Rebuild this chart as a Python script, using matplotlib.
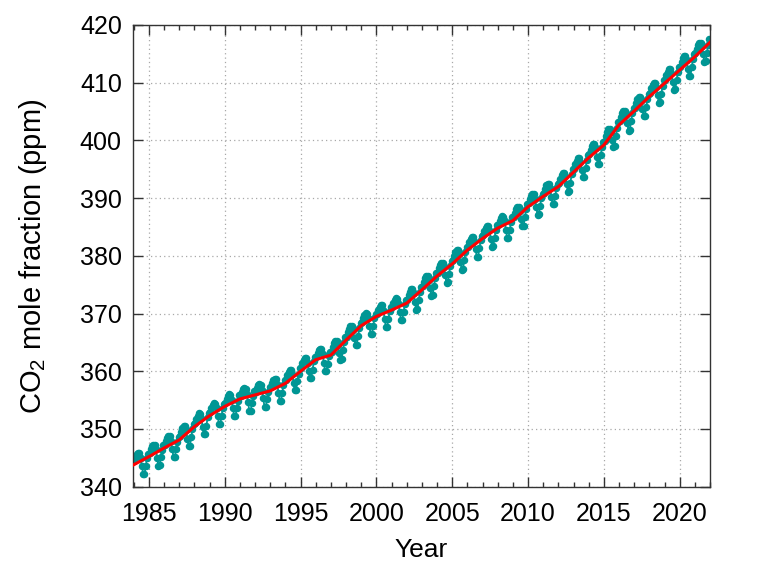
import numpy as np
import matplotlib
matplotlib.use("Agg")
import matplotlib.pyplot as plt
from matplotlib.ticker import MultipleLocator

# monthly global mean CO2 (ppm), Jan..Dec
years = list(range(1984, 2022))
monthly = [
    [344.4, 345.1, 345.6, 345.9, 345.8, 345.0, 343.6, 342.2, 342.2, 343.6, 344.9, 345.7],  # 1984
    [345.8, 346.5, 347.0, 347.3, 347.3, 346.5, 345.0, 343.6, 343.7, 345.1, 346.4, 347.2],
    [347.3, 348.0, 348.5, 348.8, 348.7, 347.9, 346.5, 345.1, 345.1, 346.5, 347.8, 348.6],
    [348.7, 349.5, 350.1, 350.5, 350.5, 349.8, 348.3, 347.0, 347.1, 348.6, 350.0, 350.9],
    [351.0, 351.7, 352.3, 352.7, 352.6, 351.9, 350.4, 349.1, 349.2, 350.6, 352.0, 352.8],
    [352.9, 353.6, 354.1, 354.5, 354.4, 353.6, 352.2, 350.8, 350.8, 352.3, 353.6, 354.4],  # 1989
    [354.5, 355.2, 355.7, 356.0, 355.9, 355.1, 353.6, 352.2, 352.2, 353.6, 354.9, 355.8],
    [355.7, 356.4, 356.9, 357.1, 357.0, 356.1, 354.6, 353.1, 353.1, 354.5, 355.7, 356.5],
    [356.4, 357.1, 357.6, 357.8, 357.7, 356.8, 355.3, 353.8, 353.8, 355.2, 356.4, 357.2],
    [357.2, 357.9, 358.4, 358.7, 358.6, 357.8, 356.3, 354.9, 354.9, 356.3, 357.6, 358.5],
    [358.5, 359.3, 359.8, 360.2, 360.2, 359.5, 358.0, 356.7, 356.8, 358.3, 359.6, 360.5],  # 1994
    [360.6, 361.4, 361.9, 362.3, 362.3, 361.5, 360.1, 358.8, 358.8, 360.3, 361.7, 362.5],
    [362.5, 363.2, 363.7, 363.9, 363.8, 363.0, 361.4, 360.0, 360.0, 361.3, 362.6, 363.4],
    [363.4, 364.2, 364.9, 365.3, 365.3, 364.6, 363.2, 361.9, 362.1, 363.6, 365.0, 365.9],
    [366.0, 366.8, 367.4, 367.8, 367.8, 367.2, 365.8, 364.5, 364.6, 366.1, 367.5, 368.4],
    [368.5, 369.2, 369.7, 370.1, 370.0, 369.2, 367.8, 366.4, 366.4, 367.9, 369.2, 370.0],  # 1999
    [370.0, 370.7, 371.2, 371.5, 371.4, 370.6, 369.1, 367.7, 367.7, 369.1, 370.4, 371.2],
    [371.2, 371.9, 372.4, 372.7, 372.6, 371.8, 370.3, 368.9, 368.9, 370.3, 371.6, 372.4],
    [372.4, 373.2, 373.8, 374.2, 374.2, 373.5, 372.0, 370.7, 370.8, 372.3, 373.7, 374.6],
    [374.7, 375.5, 376.1, 376.5, 376.5, 375.8, 374.4, 373.1, 373.2, 374.7, 376.1, 377.0],
    [377.1, 377.9, 378.4, 378.8, 378.8, 378.1, 376.6, 375.3, 375.4, 376.9, 378.2, 379.1],  # 2004
    [379.2, 380.0, 380.6, 381.0, 381.0, 380.3, 378.9, 377.6, 377.7, 379.2, 380.6, 381.5],
    [381.6, 382.4, 382.9, 383.3, 383.3, 382.5, 381.1, 379.8, 379.8, 381.3, 382.7, 383.5],
    [383.6, 384.3, 384.9, 385.2, 385.2, 384.4, 383.0, 381.6, 381.7, 383.1, 384.5, 385.3],
    [385.4, 386.1, 386.6, 386.9, 386.8, 386.0, 384.5, 383.1, 383.1, 384.5, 385.8, 386.7],
    [386.7, 387.5, 388.1, 388.5, 388.5, 387.8, 386.4, 385.1, 385.2, 386.7, 388.1, 389.0],  # 2009
    [389.1, 389.8, 390.4, 390.7, 390.7, 389.9, 388.5, 387.1, 387.2, 388.6, 390.0, 390.8],
    [390.9, 391.6, 392.2, 392.5, 392.4, 391.7, 390.2, 388.9, 388.9, 390.3, 391.7, 392.5],
    [392.6, 393.4, 394.0, 394.4, 394.4, 393.8, 392.4, 391.1, 391.2, 392.7, 394.1, 395.0],
    [395.1, 395.9, 396.5, 396.9, 396.9, 396.3, 394.9, 393.6, 393.7, 395.2, 396.6, 397.5],
    [397.6, 398.4, 399.0, 399.3, 399.3, 398.6, 397.2, 395.9, 396.0, 397.4, 398.8, 399.7],  # 2014
    [399.9, 400.7, 401.4, 401.9, 402.0, 401.4, 400.1, 398.9, 399.1, 400.7, 402.2, 403.2],
    [403.3, 404.1, 404.7, 405.1, 405.1, 404.4, 403.0, 401.7, 401.8, 403.3, 404.7, 405.6],
    [405.7, 406.5, 407.1, 407.5, 407.5, 406.9, 405.5, 404.2, 404.3, 405.8, 407.2, 408.1],
    [408.2, 409.0, 409.6, 410.0, 410.0, 409.3, 407.8, 406.5, 406.6, 408.1, 409.5, 410.4],
    [410.5, 411.3, 411.9, 412.3, 412.3, 411.6, 410.1, 408.8, 408.9, 410.4, 411.8, 412.7],  # 2019
    [412.8, 413.6, 414.2, 414.6, 414.6, 413.9, 412.4, 411.1, 411.2, 412.7, 414.1, 415.0],
    [415.1, 415.9, 416.5, 416.9, 416.9, 416.3, 414.9, 413.6, 413.7, 415.2, 416.6, 417.5],  # 2021
]

# deseasonalized trend at the start of each year
trend_years = list(range(1984, 2023))
trend_values = [343.8, 345.2, 346.7, 348.1, 350.4, 352.3, 353.9, 355.2, 355.9, 356.6,
                357.9, 360.0, 362.0, 362.8, 365.4, 367.9, 369.5, 370.6, 371.8, 374.1,
                376.5, 378.6, 381.0, 383.0, 384.8, 386.1, 388.5, 390.3, 392.0, 394.5,
                397.0, 399.2, 402.7, 405.1, 407.6, 409.9, 412.2, 414.5, 417.0]

plt.rcParams['font.family'] = ['Liberation Sans', 'DejaVu Sans']
plt.rcParams['mathtext.fontset'] = 'custom'
plt.rcParams['mathtext.rm'] = 'Liberation Sans'
plt.rcParams['mathtext.it'] = 'Liberation Sans:italic'

# decimal dates for the monthly points
t = []
co2 = []
for y, row in zip(years, monthly):
    for m, v in enumerate(row):
        t.append(y + (m + 0.5) / 12)
        co2.append(v)

fig = plt.figure(figsize=(7.62, 5.80), dpi=100)
ax = fig.add_axes([0.1745, 0.1609, 0.7573, 0.796])

teal = '#009694'
ax.plot(t, co2, color=teal, lw=1.3, marker='o', ms=4.4, mec=teal,
        mfc=teal, zorder=2)
ax.plot(trend_years, trend_values, color='#ff0000', lw=2.2, zorder=3)

ax.set_xlim(1983.95, 2022.0)
ax.set_ylim(340, 420)
ax.xaxis.set_major_locator(MultipleLocator(5))
ax.xaxis.set_minor_locator(MultipleLocator(1))
ax.yaxis.set_major_locator(MultipleLocator(10))

ax.grid(True, which='major', color='#a8a8a8', linestyle=(0, (1, 2.5)), lw=0.9)
ax.tick_params(which='both', direction='in', top=True, right=True,
               labelsize=18, color='#333333')
ax.tick_params(which='major', length=7, width=1.0, pad=8)
ax.tick_params(axis='x', which='major', pad=11)
ax.tick_params(which='minor', length=3.5, width=1.0)
for s in ax.spines.values():
    s.set_color('#333333')
    s.set_linewidth(1.0)

ax.set_xlabel('Year', fontsize=19, labelpad=9)
ax.set_ylabel('CO$_2$ mole fraction (ppm)', fontsize=21, labelpad=22)

fig.savefig('out.png', dpi=100)
